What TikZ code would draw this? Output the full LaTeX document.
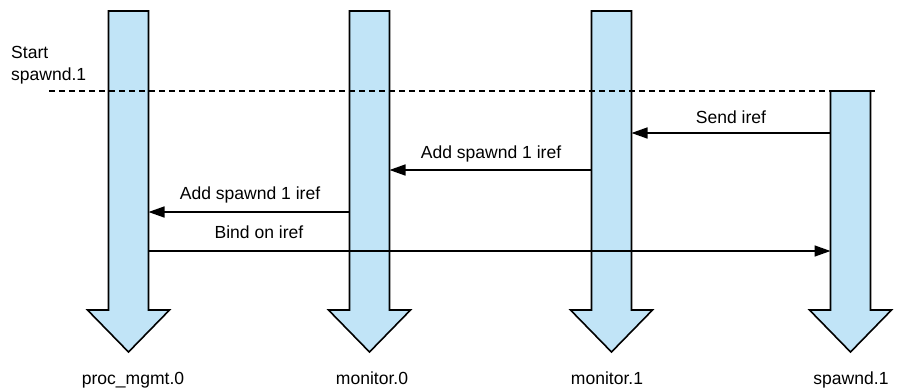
\documentclass[tikz,border=0pt]{standalone}
\usepackage{fontspec}
\setmainfont{Liberation Sans}
\usetikzlibrary{arrows.meta}
\definecolor{lanefill}{RGB}{193,228,247}
\tikzset{
  lane/.style={draw=black, fill=lanefill, line width=1.6bp, line join=miter},
  msg/.style={draw=black, line width=1.6bp, -{Triangle[length=16bp,width=11bp]}},
  lbl/.style={font=\fontsize{17.6}{22}\selectfont, inner sep=0pt, anchor=base},
  sep/.style={draw=black, line width=1.6bp, dash pattern=on 6bp off 4bp},
}
% block arrow lifeline: name, centre x, top y
\newcommand\lifeline[3]{%
  \draw[lane] (#2-20,#3) -- (#2+20,#3) -- (#2+20,310) -- (#2+41,310)
    -- (#2,352) -- (#2-41,310) -- (#2-20,310) -- cycle;
  \coordinate (#1-l) at (#2-20,0);
  \coordinate (#1-r) at (#2+20,0);
}
\begin{document}
\begin{tikzpicture}[x=1bp,y=-1bp]
\useasboundingbox (0,0) rectangle (924,390);

\lifeline{pm}{128.5}{11}
\lifeline{m0}{369.5}{11}
\lifeline{m1}{611.5}{11}
\lifeline{sp}{850.5}{91}

% start marker
\coordinate (sepA) at (49,91);
\coordinate (sepB) at (876,91);
\draw[sep] (sepA) -- (sepB);
\node[lbl, anchor=base west] (start) at (11,58) {Start};
\node[lbl, anchor=base west] (startb) at (11,80) {spawnd.1};

% messages
\draw[msg] (sp-l |- 0,133) -- (m1-r |- 0,133);
\node[lbl] (t1) at (731,123) {Send iref};

\draw[msg] (m1-l |- 0,170) -- (m0-r |- 0,170);
\node[lbl] (t2) at (491,158) {Add spawnd 1 iref};

\draw[msg] (m0-l |- 0,212) -- (pm-r |- 0,212);
\node[lbl] (t3) at (250,199) {Add spawnd 1 iref};

\draw[msg] (pm-r |- 0,251) -- (sp-l |- 0,251);
\node[lbl] (t4) at (259,238) {Bind on iref};

% lifeline names
\node[lbl] (n1) at (133,384) {proc\_mgmt.0};
\node[lbl] (n2) at (372,384) {monitor.0};
\node[lbl] (n3) at (607,384) {monitor.1};
\node[lbl] (n4) at (851,384) {spawnd.1};
\end{tikzpicture}
\end{document}
